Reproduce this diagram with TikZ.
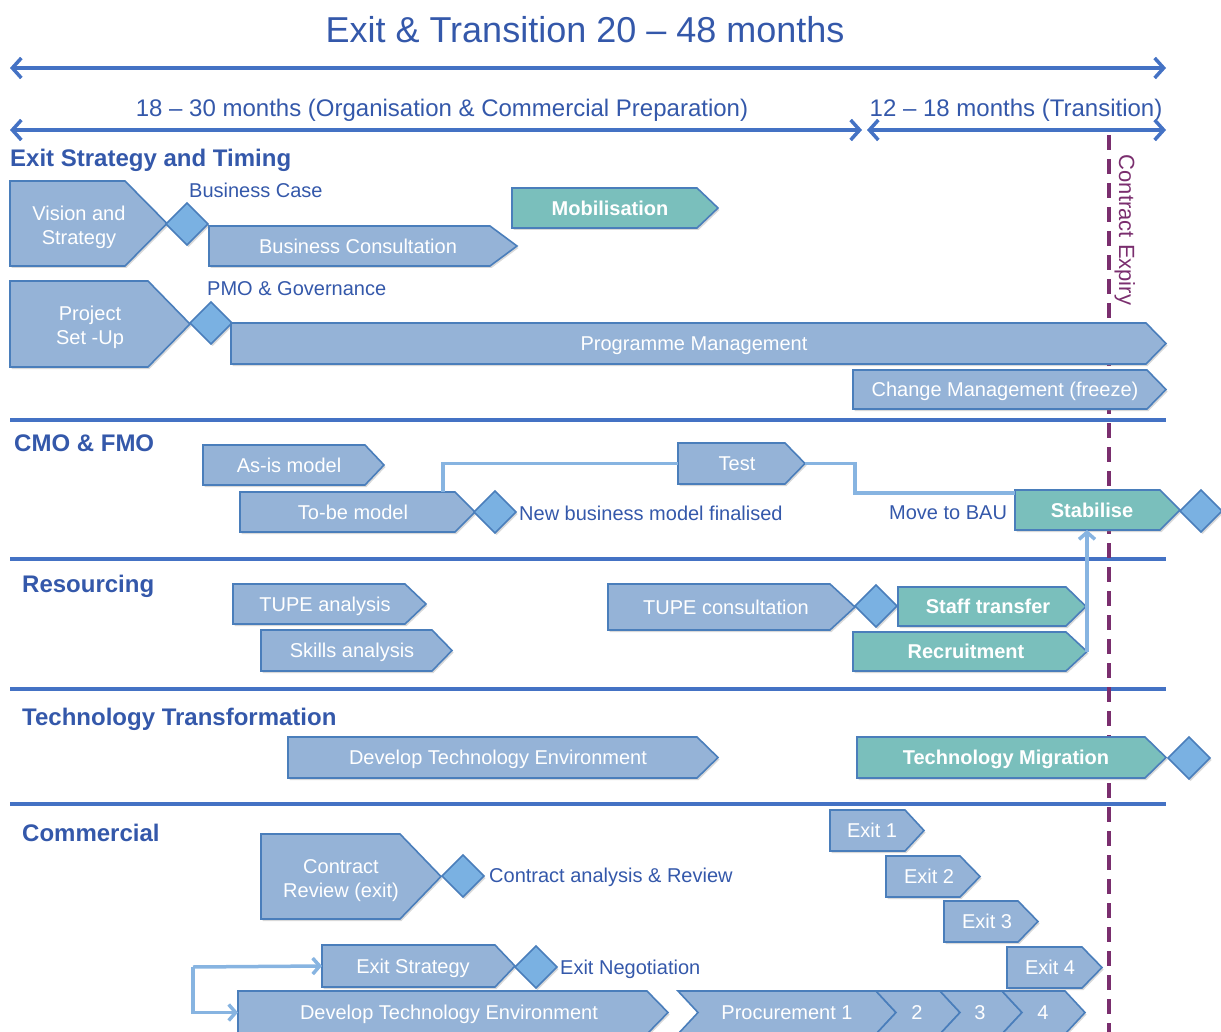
\documentclass[tikz,border=0pt]{standalone}
\usepackage{fontspec}
\setmainfont{Liberation Sans}
\usetikzlibrary{arrows.meta,shapes.geometric,shadows,calc}
\definecolor{lineblue}{RGB}{68,114,196}
\definecolor{txtblue}{RGB}{52,88,170}
\definecolor{boxfill}{RGB}{149,179,215}
\definecolor{boxline}{RGB}{74,126,187}
\definecolor{tealfill}{RGB}{122,191,188}
\definecolor{diafill}{RGB}{122,177,226}
\definecolor{connc}{RGB}{135,180,225}
\definecolor{expiry}{RGB}{122,46,110}
\tikzset{
 shd/.style={drop shadow={shadow xshift=1.5pt, shadow yshift=-2pt, opacity=0.3, fill=black!50}},
 bx/.style={fill=boxfill, draw=boxline, line width=1.6pt, shd},
 tl/.style={fill=tealfill, draw=boxline, line width=1.6pt, shd},
 dm/.style={diamond, aspect=1, inner sep=0pt, outer sep=0pt, minimum width=42pt, minimum height=42pt, fill=diafill, draw=boxline, line width=1.6pt, shd},
 btxt/.style={font=\fontsize{20}{24}\selectfont, text=white, inner sep=0pt, text height=14.3pt, text depth=0pt},
 btxt2/.style={font=\fontsize{20}{24}\selectfont, text=white, inner sep=0pt, align=center, anchor=north},
 lbl/.style={font=\fontsize{20}{24}\selectfont, text=txtblue, inner sep=0pt, text height=14.3pt, text depth=0pt, anchor=west},
 hdr/.style={font=\fontsize{24}{28}\selectfont\bfseries, text=txtblue, inner sep=0pt, text height=17.2pt, text depth=0pt, anchor=west},
 subt/.style={font=\fontsize{24}{28}\selectfont, text=txtblue, inner sep=0pt, text height=17.2pt, text depth=0pt},
 tarrow/.style={draw=lineblue, line width=3.5pt, {Straight Barb[length=9pt,width=20pt]}-{Straight Barb[length=9pt,width=20pt]}},
 sepline/.style={draw=lineblue, line width=3.5pt},
 conn/.style={draw=connc, line width=3.5pt},
 conna/.style={conn, -{Straight Barb[length=7pt,width=16pt]}},
}
\newcommand\stagebox[9]{%
 \node[inner sep=0pt,outer sep=0pt,minimum width={#5pt-#3pt},minimum height={#6pt-#4pt},anchor=north west] (#1) at (#3,#4) {};
 \draw[#2] (#1.north west) -- ([xshift=-#7pt]#1.north east) -- (#1.east) -- ([xshift=-#7pt]#1.south east) -- (#1.south west) -- cycle;
 \if\relax\detokenize{#9}\relax\else\node[btxt] (#1-t) at (#8,{(#4+#6)/2}) {#9};\fi
}
\newcommand\chevbox[5]{%
 \node[inner sep=0pt,outer sep=0pt,minimum width={#3pt-#2pt},minimum height=43pt,anchor=north west] (#1) at (#2,991) {};
 \draw[bx] (#1.north west) -- ([xshift=-20pt]#1.north east) -- (#1.east) -- ([xshift=-20pt]#1.south east) -- (#1.south west) -- ([xshift=20pt]#1.west) -- cycle;
 \node[btxt] (#1-t) at (#4,1012.5) {#5};
}
\begin{document}
\begin{tikzpicture}[x=1pt,y=-1pt]
\useasboundingbox (0,0) rectangle (1221,1032);
% title and timeline
\node[font=\fontsize{36}{40}\selectfont, text=txtblue, inner sep=0pt, text height=25.8pt, text depth=0pt] (title) at (585,30) {Exit \& Transition 20 – 48 months};
\coordinate (a1l) at (10,68); \coordinate (a1r) at (1166,68);
\draw[tarrow] (a1l) -- (a1r);
\node[subt] (s1) at (442,108) {18 – 30 months (Organisation \& Commercial Preparation)};
\node[subt] (s2) at (1016,108) {12 – 18 months (Transition)};
\coordinate (a2l) at (10,130); \coordinate (a2r) at (862,130);
\coordinate (a3l) at (867,130); \coordinate (a3r) at (1166,130);
\draw[tarrow] (a2l) -- (a2r);
\draw[tarrow] (a3l) -- (a3r);
% separators
\foreach \yy/\nn in {420/a,559/b,689/c,804/d}{
  \coordinate (sep\nn l) at (10,\yy); \coordinate (sep\nn r) at (1166,\yy);
  \draw[sepline] (sep\nn l) -- (sep\nn r);
}
% contract expiry
\coordinate (ex1) at (1109,135); \coordinate (ex2) at (1109,1040);
\draw[draw=expiry, line width=3.5pt, dash pattern=on 15pt off 9pt] (ex1) -- (ex2);
\node[font=\fontsize{22}{26}\selectfont, text=expiry, rotate=-90, inner sep=0pt, text height=15.8pt, text depth=0pt] (cexp) at (1127,230) {Contract Expiry};
% headers
\node[hdr] (h1) at (10,158) {Exit Strategy and Timing};
\node[hdr] (h2) at (14,443) {CMO \& FMO};
\node[hdr] (h3) at (22,584) {Resourcing};
\node[hdr] (h4) at (22,717) {Technology Transformation};
\node[hdr] (h5) at (22,833) {Commercial};
% Exit strategy and timing
\stagebox{vis}{bx}{10}{181}{167}{266}{42}{79}{}
\node[btxt2] (vis-t) at (79,206) {Vision and\\Strategy};
\node[dm] (d1) at (187,224) {};
\node[lbl] (l1) at (189,190) {Business Case};
\stagebox{bcon}{bx}{209}{226}{517}{266}{27}{358}{Business Consultation}
\stagebox{mob}{tl}{512}{188}{718}{228}{21}{610}{\bfseries Mobilisation}
\stagebox{psu}{bx}{10}{281}{190}{367}{42}{90}{}
\node[btxt2] (psu-t) at (90,306) {Project\\Set -Up};
\node[dm] (d2) at (211,323) {};
\node[lbl] (l2) at (207,288) {PMO \& Governance};
\stagebox{pm}{bx}{231}{323}{1166}{364}{20}{694}{Programme Management}
\stagebox{cm}{bx}{853}{370}{1166}{409}{19}{1005}{Change Management (freeze)}
% CMO & FMO
\stagebox{asis}{bx}{203}{445}{384}{485}{19}{289}{As-is model}
\stagebox{tobe}{bx}{240}{492}{475}{532}{20}{353}{To-be model}
\node[dm] (d3) at (495,512) {};
\node[lbl] (l3) at (519,513) {New business model finalised};
\stagebox{test}{bx}{678}{443}{805}{484}{20}{737}{Test}
\node[lbl] (l4) at (889,512) {Move to BAU};
\stagebox{stab}{tl}{1015}{490}{1180}{530}{20}{1092}{\bfseries Stabilise}
\node[dm] (d4) at (1201,511) {};
% Resourcing
\stagebox{tupa}{bx}{233}{584}{426}{624}{21}{325}{TUPE analysis}
\stagebox{skl}{bx}{261}{630}{452}{671}{20}{352}{Skills analysis}
\stagebox{tupc}{bx}{608}{584}{855}{630}{25}{726}{TUPE consultation}
\node[dm] (d5) at (876,606) {};
\stagebox{stf}{tl}{898}{587}{1086}{626}{20}{988}{\bfseries Staff transfer}
\stagebox{rec}{tl}{853}{632}{1087}{671}{21}{966}{\bfseries Recruitment}
% Technology
\stagebox{dte}{bx}{288}{737}{718}{778}{21}{498}{Develop Technology Environment}
\stagebox{tm}{tl}{857}{737}{1166}{778}{21}{1006}{\bfseries Technology Migration}
\node[dm] (d6) at (1189,758) {};
% Commercial
\stagebox{crv}{bx}{261}{834}{441}{919}{41}{341}{}
\node[btxt2] (crv-t) at (341,859) {Contract\\Review (exit)};
\node[dm] (d7) at (463,876) {};
\node[lbl] (l5) at (489,875) {Contract analysis \& Review};
\stagebox{e1}{bx}{830}{810}{924}{851}{19}{872}{Exit 1}
\stagebox{e2}{bx}{886}{856}{980}{897}{20}{929}{Exit 2}
\stagebox{e3}{bx}{944}{901}{1038}{942}{20}{987}{Exit 3}
\stagebox{e4}{bx}{1007}{947}{1102}{988}{20}{1050}{Exit 4}
\stagebox{exs}{bx}{322}{945}{515}{987}{20}{413}{Exit Strategy}
\node[dm] (d8) at (536,967) {};
\node[lbl] (l6) at (560,967) {Exit Negotiation};
\stagebox{dte2}{bx}{238}{991}{668}{1034}{21}{449}{Develop Technology Environment}
\chevbox{pr1}{678}{896}{787}{Procurement 1}
\chevbox{pr2}{876}{960}{917}{2}
\chevbox{pr3}{940}{1022}{980}{3}
\chevbox{pr4}{1002}{1085}{1043}{4}
% connectors
\draw[conn] ([xshift=203pt]tobe.north west) |- (test.west);
\draw[conn] (test.east) -- ++(50,0) |- ([yshift=-3pt]stab.north west);
\draw[conna] (rec.east) -- (rec.east |- stab.south);
\coordinate (br) at (193,967);
\draw[conna] (br) -- (exs.west);
\draw[conna] (br) |- (dte2.west);
\end{tikzpicture}
\end{document}
